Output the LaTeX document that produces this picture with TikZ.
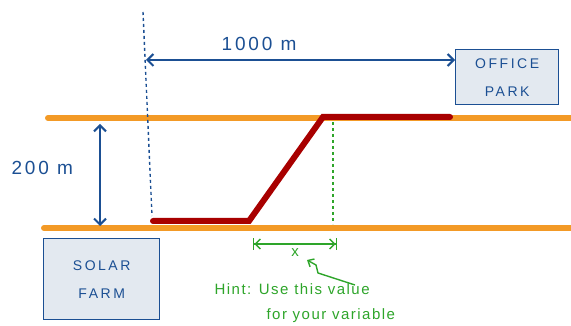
\documentclass[tikz,border=0pt]{standalone}
\usepackage{fontspec}
\setmainfont{Liberation Sans}
\usetikzlibrary{arrows.meta}
\definecolor{penblue}{HTML}{1B4F93}
\definecolor{boxfill}{HTML}{E3E9F0}
\definecolor{roadorange}{HTML}{F39A26}
\definecolor{pipered}{HTML}{A80000}
\definecolor{pengreen}{HTML}{2EA52A}
\tikzset{
  road/.style={roadorange, line width=6pt, line cap=round},
  pipe/.style={pipered, line width=6pt, line cap=round, line join=miter},
  place/.style={draw=penblue, fill=boxfill, line width=1.4pt, align=center, text=penblue, font=\fontsize{14}{28}\selectfont\addfontfeature{LetterSpace=18}, inner sep=0pt},
  dimblue/.style={penblue, line width=2pt, {Straight Barb[length=6pt,width=12pt]}-{Straight Barb[length=6pt,width=12pt]}},
  bluelabel/.style={text=penblue, font=\fontsize{19}{20}\selectfont\addfontfeature{LetterSpace=15}},
  greenlabel/.style={text=pengreen, font=\fontsize{15}{25}\selectfont\addfontfeature{LetterSpace=10}, align=left},
  guide/.style={line width=1.4pt, dash pattern=on 3pt off 3pt},
}
\begin{document}
\begin{tikzpicture}[x=1pt,y=-1pt]
\useasboundingbox (0,0) rectangle (571,326);
% roads
\draw[road] (48,118) -- (571,118);
\draw[road] (44,228) -- (571,228);
% boxes
\node[place, minimum width=103pt, minimum height=55pt, anchor=north west] (office) at (455,49) {OFFICE\\PARK};
\node[place, minimum width=116pt, minimum height=81pt, anchor=north west] (solar) at (43,238) {SOLAR\\FARM};
% blue dotted guide
\coordinate (gtop) at (143,12);
\coordinate (gbot) at (152,216);
\coordinate (gmid) at (146,60);
\draw[penblue, guide] (gtop) -- (gbot);
% 1000 m
\draw[dimblue] (gmid) -- (office.west |- gmid);
\node[bluelabel] (l1000) at (259,44) {1000 m};
% 200 m
\coordinate (h1) at (100,124);
\coordinate (h2) at (100,226);
\draw[dimblue] (h1) -- (h2);
\node[bluelabel, anchor=west] (l200) at (8,168) {200 m};
% pipe
\coordinate (p0) at (153,221);
\coordinate (p1) at (249,221);
\coordinate (p2) at (323,117);
\coordinate (p3) at (450,117);
\draw[pipe] (p0) -- (p1) -- (p2) -- (p3);
% green guide
\coordinate (g1) at (333,122);
\coordinate (g2) at (333,224);
\draw[pengreen, guide] (g1) -- (g2);
% x dimension
\coordinate (x1) at (253,244);
\coordinate (x2) at (337,244);
\draw[pengreen, line width=1.4pt, {Bar[width=12pt]Straight Barb[length=5pt,width=10pt]}-{Straight Barb[length=5pt,width=10pt]Bar[width=12pt]}] (x1) -- (x2);
\node[greenlabel] (xl) at (295,253) {x};
% hint arrow
\coordinate (ha) at (355,285);
\coordinate (hb) at (307,260);
\draw[pengreen, line width=1.4pt, -{Straight Barb[length=5pt,width=9pt]}] (ha) -- (318,273) -- (316,265) -- (hb);
\node[greenlabel, anchor=north west] (hint) at (211,280) {Hint: Use this value\\\hspace*{52pt}for your variable};
\end{tikzpicture}
\end{document}
